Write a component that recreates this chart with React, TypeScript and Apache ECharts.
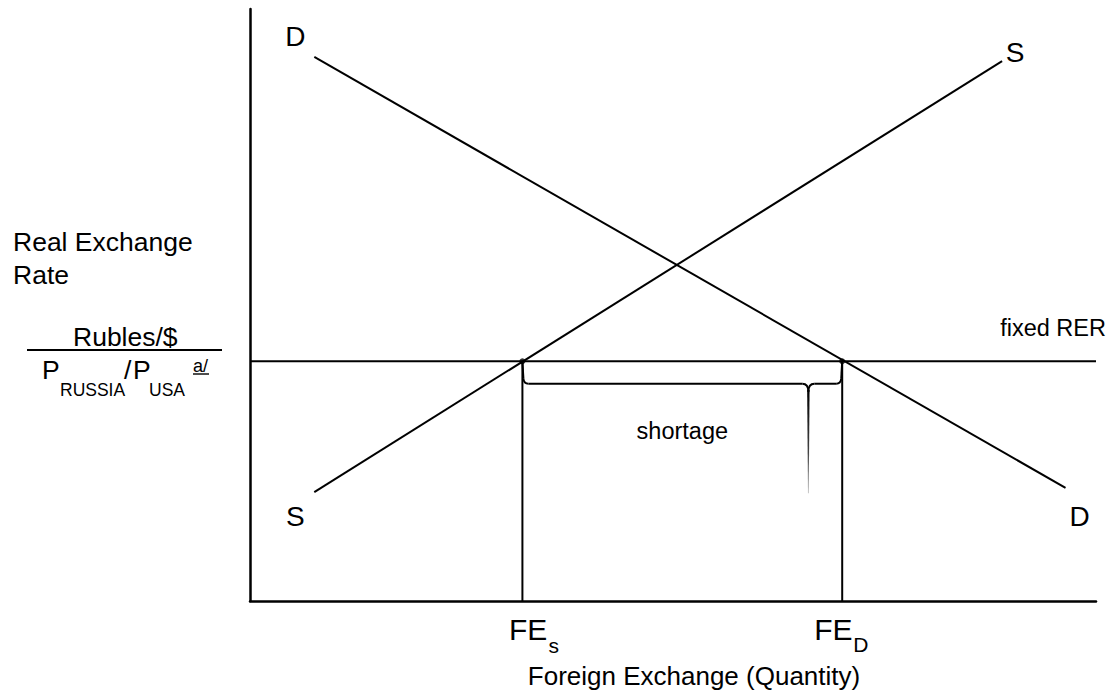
import React, { useEffect, useRef } from "react";
import * as echarts from "echarts";

// ---- data (quantity 0..100 on x, real exchange rate 0..100 on y) ----
const demandCurve: number[][] = [
  [7.6, 91.9],
  [96.4, 19.1],
];
const supplyCurve: number[][] = [
  [7.6, 18.4],
  [88.9, 91.2],
];
const fixedRER = 40.5;
const feSupplied = 32.2;
const feDemanded = 70;
const braceLevel = 36.7;
const braceTip = [66, 18.2];

const curveNames = ["D", "S"];
const yTitleLines = ["Real Exchange", "Rate"];
const xTitle = "Foreign Exchange (Quantity)";
const rerLabel = "fixed RER";
const gapLabel = "shortage";
const quantityLabels = [
  { main: "FE", sub: "s" },
  { main: "FE", sub: "D" },
];

const FONT = "'Liberation Sans', Arial, Helvetica, sans-serif";

export default function App() {
  const ref = useRef<HTMLDivElement>(null);

  useEffect(() => {
    if (!ref.current) return;
    const chart = echarts.init(ref.current, null, { renderer: "svg" });
    const black = "#000";
    const lineSeries = (name: string, data: number[][]) => ({
      type: "line",
      name,
      data,
      showSymbol: false,
      symbol: "none",
      silent: true,
      lineStyle: { color: black, width: 2 },
      z: 3,
    });

    chart.setOption({
      animation: false,
      backgroundColor: "#fff",
      grid: { left: 250, right: 13, top: 9, bottom: 92 },
      xAxis: {
        type: "value",
        min: 0,
        max: 100,
        axisLine: { show: true, onZero: false, lineStyle: { color: black, width: 2.5 } },
        axisTick: { show: false },
        axisLabel: { show: false },
        splitLine: { show: false },
      },
      yAxis: {
        type: "value",
        min: 0,
        max: 100,
        axisLine: { show: true, onZero: false, lineStyle: { color: black, width: 2.5 } },
        axisTick: { show: false },
        axisLabel: { show: false },
        splitLine: { show: false },
      },
      series: [
        lineSeries("demand", demandCurve),
        lineSeries("supply", supplyCurve),
        lineSeries("fixed", [
          [0, fixedRER],
          [100, fixedRER],
        ]),
        lineSeries("feS", [
          [feSupplied, fixedRER],
          [feSupplied, 0],
        ]),
        lineSeries("feD", [
          [feDemanded, fixedRER],
          [feDemanded, 0],
        ]),
        {
          type: "scatter",
          data: [
            [feSupplied, fixedRER],
            [feDemanded, fixedRER],
          ],
          symbolSize: 6,
          itemStyle: { color: black },
          silent: true,
          z: 5,
        },
        {
          type: "custom",
          clip: false,
          silent: true,
          z: 4,
          data: [[feSupplied, fixedRER, feDemanded, braceLevel, braceTip[0], braceTip[1]]],
          encode: { x: [0, 2, 4], y: [1, 3, 5] },
          renderItem: (_params: any, api: any) => {
            const tl = api.coord([api.value(0), api.value(1)]);
            const tr = api.coord([api.value(2), api.value(1)]);
            const bl = api.coord([api.value(0), api.value(3)]);
            const tip = api.coord([api.value(4), api.value(3)]);
            const tipEnd = api.coord([api.value(4), api.value(5)]);
            const yb = bl[1];
            const x1 = tl[0];
            const x2 = tr[0];
            const tx = tip[0];
            const st = { stroke: black, lineWidth: 2, fill: "none" };
            return {
              type: "group",
              children: [
                { type: "line", shape: { x1, y1: tl[1], x2: x1 + 1, y2: yb - 5 }, style: st },
                {
                  type: "bezierCurve",
                  shape: { x1: x1 + 1, y1: yb - 5, cpx1: x1 + 1.5, cpy1: yb, x2: x1 + 6, y2: yb },
                  style: st,
                },
                { type: "line", shape: { x1: x1 + 6, y1: yb, x2: tx - 6, y2: yb }, style: st },
                {
                  type: "bezierCurve",
                  shape: { x1: tx - 6, y1: yb, cpx1: tx, cpy1: yb, x2: tx, y2: yb + 8 },
                  style: st,
                },
                {
                  type: "bezierCurve",
                  shape: { x1: tx, y1: yb + 8, cpx1: tx, cpy1: yb, x2: tx + 6, y2: yb },
                  style: st,
                },
                { type: "line", shape: { x1: tx + 6, y1: yb, x2: x2 - 6, y2: yb }, style: st },
                {
                  type: "bezierCurve",
                  shape: { x1: x2 - 6, y1: yb, cpx1: x2 - 1.5, cpy1: yb, x2: x2 - 1, y2: yb - 5 },
                  style: st,
                },
                { type: "line", shape: { x1: x2 - 1, y1: yb - 5, x2, y2: tr[1] }, style: st },
                {
                  type: "polygon",
                  shape: {
                    points: [
                      [tx - 1.2, yb + 6],
                      [tx + 1.2, yb + 6],
                      [tx + 0.4, tipEnd[1]],
                      [tx - 0.4, tipEnd[1]],
                    ],
                  },
                  style: {
                    fill: new echarts.graphic.LinearGradient(0, 0, 0, 1, [
                      { offset: 0, color: "#000" },
                      { offset: 0.6, color: "#444" },
                      { offset: 1, color: "#bbb" },
                    ]),
                  },
                },
              ],
            };
          },
        },
      ],
    });

    const px = (x: number, y: number) =>
      chart.convertToPixel({ gridIndex: 0 }, [x, y]) as number[];
    const txt = (text: string, x: number, y: number, size: number, align = "left") => ({
      type: "text",
      x,
      y,
      silent: true,
      z: 10,
      style: {
        text,
        x: 0,
        y: 0,
        fontSize: size,
        fontFamily: FONT,
        fill: "#000",
        align,
        verticalAlign: "middle",
      },
    });
    const seg = (x1: number, y1: number, x2: number, y2: number, w: number) => ({
      type: "line",
      silent: true,
      z: 10,
      shape: { x1, y1, x2, y2 },
      style: { stroke: "#000", lineWidth: w },
    });

    const dStart = px(demandCurve[0][0], demandCurve[0][1]);
    const dEnd = px(demandCurve[1][0], demandCurve[1][1]);
    const sStart = px(supplyCurve[0][0], supplyCurve[0][1]);
    const sEnd = px(supplyCurve[1][0], supplyCurve[1][1]);
    const feS = px(feSupplied, 0);
    const feD = px(feDemanded, 0);
    const rer = px(100, fixedRER);
    const mid = px((feSupplied + feDemanded) / 2, fixedRER);

    const graphic: any[] = [
      // curve labels
      txt(curveNames[0], dStart[0] - 19, dStart[1] - 20, 28, "center"),
      txt(curveNames[0], dEnd[0] + 14, dEnd[1] + 29, 28, "center"),
      txt(curveNames[1], sStart[0] - 19, sStart[1] + 24, 28, "center"),
      txt(curveNames[1], sEnd[0] + 13, sEnd[1] - 9, 28, "center"),
      // fixed RER label
      txt(rerLabel, rer[0] + 10, rer[1] - 33, 23.5, "right"),
      // shortage
      txt(gapLabel, mid[0], mid[1] + 70, 23.5, "center"),
      // quantity labels
      txt(quantityLabels[0].main, feS[0] - 13.5, feS[1] + 28, 30),
      txt(quantityLabels[0].sub, feS[0] + 26, feS[1] + 44, 21),
      txt(quantityLabels[1].main, feD[0] - 28, feD[1] + 28, 30),
      txt(quantityLabels[1].sub, feD[0] + 11, feD[1] + 43, 21),
      // x title
      txt(xTitle, 694, 676, 26, "center"),
      // y title
      txt(yTitleLines[0], 13, 242, 26.5),
      txt(yTitleLines[1], 13, 275, 26.5),
      txt("Rubles/$", 73, 337, 26.5),
      seg(27, 350, 222, 350, 2),
      txt("P", 42, 370, 26.5),
      txt("RUSSIA", 60, 390, 17.5),
      txt("/", 124, 370, 26.5),
      txt("P", 133, 370, 26.5),
      txt("USA", 149, 390, 17.5),
      txt("a/", 193, 366, 18),
      seg(193, 374, 209, 374, 1.4),
    ];
    chart.setOption({ graphic });

    return () => chart.dispose();
  }, []);

  return (
    <div
      ref={ref}
      style={{ position: "absolute", left: 0, top: 0, width: 1109, height: 693, background: "#fff" }}
    />
  );
}
